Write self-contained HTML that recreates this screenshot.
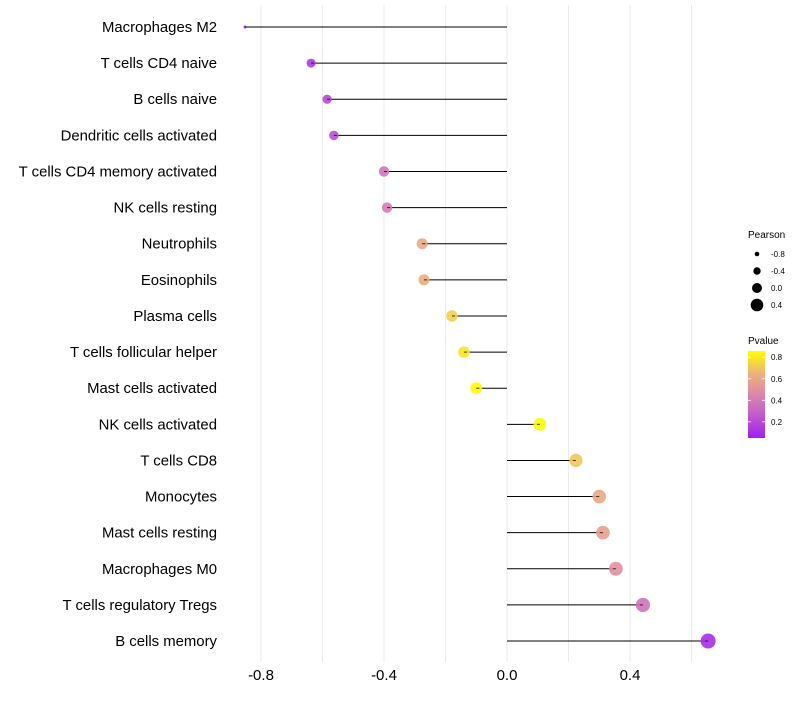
<!DOCTYPE html>
<html><head><meta charset="utf-8"><style>
body{margin:0;background:#fff;font-family:"Liberation Sans",sans-serif}
</style></head><body>
<svg id="c" width="800" height="700" xmlns="http://www.w3.org/2000/svg"></svg>
<script>
const categories=["Macrophages M2","T cells CD4 naive","B cells naive","Dendritic cells activated","T cells CD4 memory activated","NK cells resting","Neutrophils","Eosinophils","Plasma cells","T cells follicular helper","Mast cells activated","NK cells activated","T cells CD8","Monocytes","Mast cells resting","Macrophages M0","T cells regulatory  Tregs","B cells memory"];
const pearson=[-0.852,-0.637,-0.585,-0.563,-0.40,-0.39,-0.276,-0.27,-0.179,-0.14,-0.10,0.107,0.224,0.30,0.312,0.354,0.442,0.654];
const pvalue=[0.08,0.14,0.2,0.22,0.38,0.4,0.6,0.62,0.72,0.78,0.84,0.84,0.7,0.6,0.56,0.5,0.36,0.1];
const xTicks=[-0.8,-0.4,0.0,0.4];
const xMinor=[-0.6,-0.2,0.2,0.6];
const sizeLegend=[-0.8,-0.4,0.0,0.4];
const colorLegend=[0.8,0.6,0.4,0.2];

const svg=document.getElementById('c');const NS="http://www.w3.org/2000/svg";
function mk(t,a,p){const e=document.createElementNS(NS,t);for(const k in a)e.setAttribute(k,a[k]);(p||svg).appendChild(e);return e;}
const x=v=>507+v*307.5;
const y=i=>27+i*36.12;
const pmin=Math.min(...pearson),pmax=Math.max(...pearson);
const r=v=>Math.sqrt(Math.max(0.5,2.3+12*Math.min(1,(v-pmin)/0.2)+42*(v-pmin)/(pmax-pmin)));
const stops=[[0.05,[160,32,240]],[0.3,[200,100,200]],[0.45,[218,135,170]],[0.65,[238,180,120]],[0.85,[255,255,0]]];
function col(p){if(p<=stops[0][0])return `rgb(${stops[0][1]})`;for(let i=1;i<stops.length;i++){if(p<=stops[i][0]){const a=stops[i-1],b=stops[i],t=(p-a[0])/(b[0]-a[0]);return 'rgb('+a[1].map((c,k)=>Math.round(c+(b[1][k]-c)*t)).join(',')+')';}}return `rgb(${stops[stops.length-1][1]})`;}
const py=v=>438-(v-0.05)/(0.83-0.05)*84;

xTicks.concat(xMinor).forEach(v=>{const g=mk('line',{x1:x(v),x2:x(v),y1:5,y2:662,stroke:'#ebebeb','stroke-width':1});
});
xTicks.forEach(v=>{const t=mk('text',{x:x(v),y:680,'text-anchor':'middle','font-size':15,fill:'#000'});t.textContent=v.toFixed(1);
});
categories.forEach((c,i)=>{
 const t=mk('text',{x:217,y:y(i)+5,'text-anchor':'end','font-size':14.9,fill:'#000'});t.textContent=c;
 
 const l=mk('line',{x1:x(0),x2:x(pearson[i]),y1:y(i),y2:y(i),stroke:'#000','stroke-width':1});
 
 const d=mk('circle',{cx:x(pearson[i]),cy:y(i),r:r(pearson[i]),fill:col(pvalue[i]),'fill-opacity':0.9});
 
 const l2=mk('line',{x1:x(pearson[i])+(pearson[i]<0?3:-3),x2:x(pearson[i]),y1:y(i),y2:y(i),stroke:'#000','stroke-width':1,'stroke-opacity':0.7});
 
});
let t=mk('text',{x:748,y:238,'font-size':10});t.textContent='Pearson';

const legR=[2.3,3.7,5,6.3];
sizeLegend.forEach((v,i)=>{const cy=254+i*17;const c=mk('circle',{cx:757,cy:cy,r:legR[i],fill:'#000'});

const s=mk('text',{x:771,y:cy+3,'font-size':8});s.textContent=v.toFixed(1);
});
t=mk('text',{x:748,y:344,'font-size':10});t.textContent='Pvalue';

const defs=mk('defs',{});const lg=mk('linearGradient',{id:'g',x1:0,y1:1,x2:0,y2:0},defs);
stops.forEach(s=>mk('stop',{offset:(s[0]-0.05)/0.8,'stop-color':`rgb(${s[1]})`},lg));
const bar=mk('rect',{x:748,y:351,width:17,height:87,fill:'url(#g)'});

colorLegend.forEach(v=>{const s=mk('text',{x:771,y:py(v)+3,'font-size':8});s.textContent=v.toFixed(1);

mk('line',{x1:748,x2:751,y1:py(v),y2:py(v),stroke:'#fff','stroke-width':0.8});mk('line',{x1:762,x2:765,y1:py(v),y2:py(v),stroke:'#fff','stroke-width':0.8});});
</script>
</body></html>
